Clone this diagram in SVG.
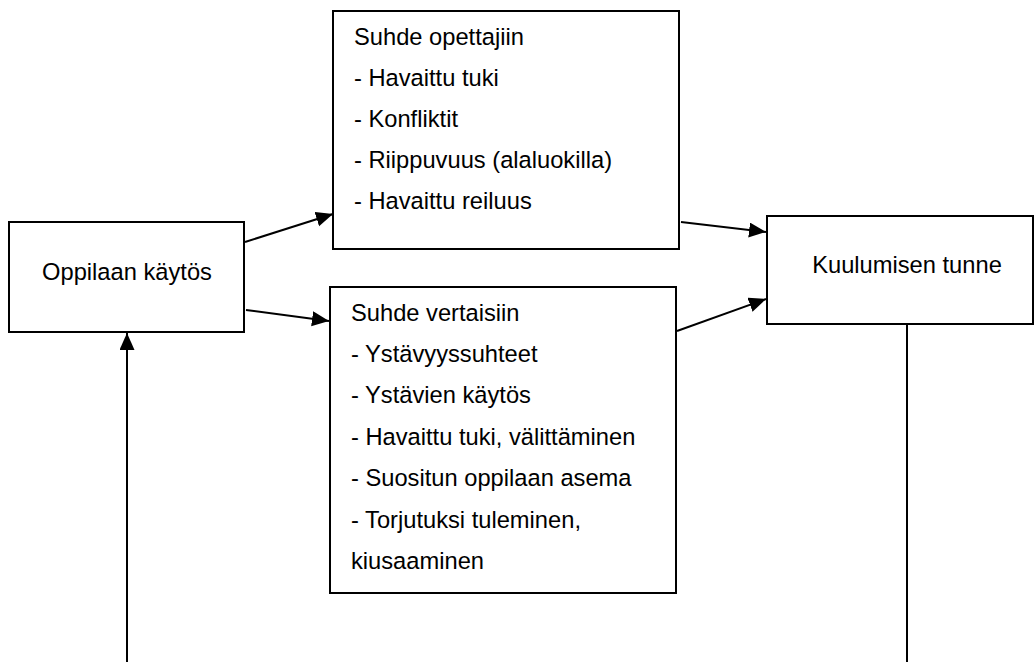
<svg xmlns="http://www.w3.org/2000/svg" width="1035" height="662" viewBox="0 0 1035 662">
<style>
.box{fill:#fff;stroke:#000;stroke-width:2}
.t{font-family:"Liberation Sans",Arial,sans-serif;font-size:23.7px;fill:#000}
.c{text-anchor:middle}
.ln{stroke:#000;stroke-width:2;fill:none}
</style>
<defs>
<marker id="ah" markerUnits="userSpaceOnUse" markerWidth="20" markerHeight="16" refX="17" refY="7.5" orient="auto">
<path d="M0,0 L17,7.5 L0,15 z" fill="#000"/>
</marker>
</defs>
<rect width="1035" height="662" fill="#fff"/>
<g id="connectors">
<line class="ln" x1="245" y1="242" x2="333" y2="214" marker-end="url(#ah)"/>
<line class="ln" x1="246" y1="310" x2="329" y2="321" marker-end="url(#ah)"/>
<line class="ln" x1="681" y1="222" x2="766" y2="232" marker-end="url(#ah)"/>
<line class="ln" x1="677" y1="331" x2="766" y2="299" marker-end="url(#ah)"/>
<line class="ln" x1="127" y1="662" x2="127" y2="333" marker-end="url(#ah)"/>
<line class="ln" x1="907" y1="324" x2="907" y2="662"/>
</g>
<g id="oppilaan-kaytos">
<rect class="box" x="9" y="222" width="235" height="110"/>
<text class="t c" x="127" y="280">Oppilaan käytös</text>
</g>
<g id="suhde-opettajiin">
<rect class="box" x="333" y="11" width="346" height="238"/>
<text class="t" x="354" y="45">Suhde opettajiin</text>
<text class="t" x="354" y="86">- Havaittu tuki</text>
<text class="t" x="354" y="127">- Konfliktit</text>
<text class="t" x="354" y="168">- Riippuvuus (alaluokilla)</text>
<text class="t" x="354" y="209">- Havaittu reiluus</text>
</g>
<g id="suhde-vertaisiin">
<rect class="box" x="330" y="287" width="346" height="306"/>
<text class="t" x="351" y="321">Suhde vertaisiin</text>
<text class="t" x="351" y="362">- Ystävyyssuhteet</text>
<text class="t" x="351" y="403">- Ystävien käytös</text>
<text class="t" x="351" y="445">- Havaittu tuki, välittäminen</text>
<text class="t" x="351" y="486">- Suositun oppilaan asema</text>
<text class="t" x="351" y="528">- Torjutuksi tuleminen,</text>
<text class="t" x="351" y="569">kiusaaminen</text>
</g>
<g id="kuulumisen-tunne">
<rect class="box" x="767" y="216" width="266" height="108"/>
<text class="t c" x="907" y="273">Kuulumisen tunne</text>
</g>
</svg>
